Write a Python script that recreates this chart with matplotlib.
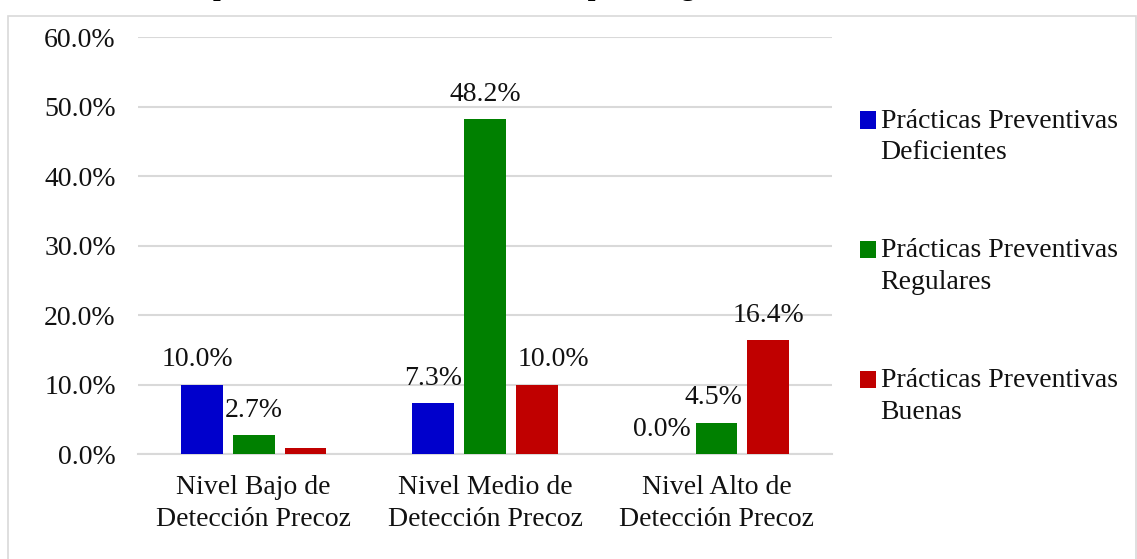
import matplotlib
matplotlib.use("Agg")
import matplotlib.pyplot as plt
import numpy as np
from matplotlib.patches import Rectangle
from matplotlib.legend_handler import HandlerPatch

categories = ["Nivel Bajo de\nDetección Precoz",
              "Nivel Medio de\nDetección Precoz",
              "Nivel Alto de\nDetección Precoz"]
series_names = ["Prácticas Preventivas\nDeficientes",
                "Prácticas Preventivas\nRegulares",
                "Prácticas Preventivas\nBuenas"]
deficientes = [10.0, 7.3, 0.0]
regulares = [2.7, 48.2, 4.5]
buenas = [0.9, 10.0, 16.4]
# labels shown in the chart (the small red bar of the first group has none)
labels_def = ["10.0%", "7.3%", "0.0%"]
labels_reg = ["2.7%", "48.2%", "4.5%"]
labels_bue = ["", "10.0%", "16.4%"]
yticks = [0, 10, 20, 30, 40, 50, 60]

colors = ["#0000CC", "#008000", "#C00000"]

plt.rcParams["font.family"] = ["Liberation Serif", "DejaVu Serif"]


def top_line_patch(legend, orig_handle, xdescent, ydescent, width, height, fontsize):
    # put the legend square next to the first line of a two-line label
    return Rectangle((-xdescent, -ydescent + 0.6 * fontsize), width, height)


fig = plt.figure(figsize=(11.37, 5.59), dpi=100)
ax = fig.add_axes([0.1214, 0.1878, 0.6104, 0.746])

x = np.arange(len(categories))
width = 0.18
step = 0.224
all_series = [deficientes, regulares, buenas]
all_labels = [labels_def, labels_reg, labels_bue]
# small label nudges (points) that mimic Excel's label placement
x_nudge = [[-3, 0, -2], [0, 0, -2], [0, 12, 0]]

handles = []
for i, (vals, lbls) in enumerate(zip(all_series, all_labels)):
    pos = x + (i - 1) * step
    bars = ax.bar(pos, vals, width, color=colors[i], label=series_names[i],
                  zorder=3)
    handles.append(bars.patches[0])
    for j, (b, lbl) in enumerate(zip(bars, lbls)):
        if not lbl:
            continue
        ax.annotate(lbl, (b.get_x() + b.get_width() / 2, b.get_height()),
                    xytext=(x_nudge[i][j], 18), textcoords="offset points",
                    ha="center", va="center", fontsize=20, color="#111111",
                    zorder=4)

ax.set_xlim(-0.5, 2.5)
ax.set_ylim(0, 60)
ax.set_yticks(yticks)
ax.set_yticklabels([f"{t:.1f}%" for t in yticks], fontsize=20)
ax.set_xticks(x)
ax.set_xticklabels(categories, fontsize=20, linespacing=1.35)
ax.tick_params(axis="both", length=0, colors="#111111")
ax.tick_params(axis="y", pad=16)
ax.tick_params(axis="x", pad=15)
ax.grid(axis="y", color="#d9d9d9", linewidth=1.5, zorder=0)
for s in ["top", "right", "left"]:
    ax.spines[s].set_visible(False)
ax.spines["bottom"].set_color("#d9d9d9")
ax.spines["bottom"].set_linewidth(1.5)

leg = ax.legend(handles=handles, labels=series_names,
                loc="upper left", bbox_to_anchor=(1.012, 0.875), frameon=False,
                fontsize=20, handlelength=0.6, handleheight=0.6,
                handletextpad=0.15, labelspacing=2.63, borderaxespad=0.3,
                handler_map={h: HandlerPatch(patch_func=top_line_patch)
                             for h in handles})
for t in leg.get_texts():
    t.set_linespacing(1.35)
    t.set_color("#111111")

# outer chart border
fig.patches.append(Rectangle((8 / 1137, -0.01), 1128 / 1137, 1 - 16 / 559 + 0.01,
                             transform=fig.transFigure, fill=False,
                             edgecolor="#d9d9d9", linewidth=1.2))

# title, mostly cut off by the top edge of the image
fig.text(0.49, 1 + 5 / 559,
         "preventivas en usuarias del Hospital Regional de Ica, 2023",
         ha="center", va="baseline", fontsize=20, fontweight="bold")

fig.savefig("out.png", dpi=100)
